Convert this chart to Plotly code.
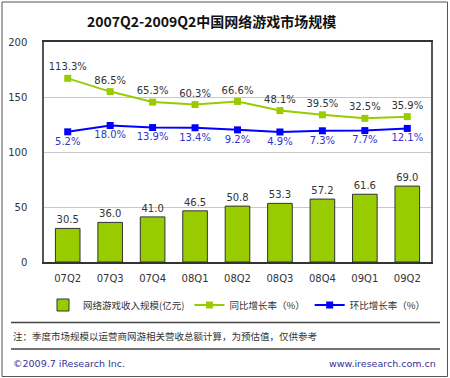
import plotly.graph_objects as go

categories = ["07Q2", "07Q3", "07Q4", "08Q1", "08Q2", "08Q3", "08Q4", "09Q1", "09Q2"]
revenue = [30.5, 36.0, 41.0, 46.5, 50.8, 53.3, 57.2, 61.6, 69.0]
yoy_growth = [113.3, 86.5, 65.3, 60.3, 66.6, 48.1, 39.5, 32.5, 35.9]
qoq_growth = [5.2, 18.0, 13.9, 13.4, 9.2, 4.9, 7.3, 7.7, 12.1]

FONT = "DejaVu Sans, Noto Sans CJK SC, sans-serif"
CJK = "Noto Sans CJK SC, DejaVu Sans, sans-serif"

W, H = 450, 378
L, R, T, B = 44, 431, 42, 262

def px(x):
    return (x - L) / (R - L)

def py(y):
    return (B - y) / (B - T)

fig = go.Figure()
fig.add_trace(go.Bar(
    x=categories, y=revenue, name="网络游戏收入规模(亿元)",
    marker=dict(color="#99cc00", line=dict(color="#333333", width=1)),
    text=[f"{v:.1f}" for v in revenue], textposition="outside",
    textfont=dict(family=FONT, size=10, color="#333333"),
    cliponaxis=False,
))
fig.add_trace(go.Scatter(
    x=categories, y=yoy_growth, name="同比增长率（%）", yaxis="y2",
    mode="lines+markers+text",
    line=dict(color="#99cc00", width=2),
    marker=dict(symbol="square", size=7, color="#99cc00"),
    text=[f"{v:.1f}%" for v in yoy_growth], textposition="top center",
    textfont=dict(family=FONT, size=10, color="#333333"),
    cliponaxis=False,
))
fig.add_trace(go.Scatter(
    x=categories, y=qoq_growth, name="环比增长率（%）", yaxis="y2",
    mode="lines+markers+text",
    line=dict(color="#0000ff", width=2),
    marker=dict(symbol="square", size=7, color="#0000ff"),
    text=[f"{v:.1f}%" for v in qoq_growth], textposition="bottom center",
    textfont=dict(family=FONT, size=10, color="#3333cc"),
    cliponaxis=False,
))

shapes = [
    dict(type="rect", xref="paper", yref="paper", x0=px(2), x1=px(447.5), y0=py(376.5), y1=py(2),
         line=dict(color="#555555", width=1), layer="below"),
    dict(type="line", xref="paper", yref="paper", x0=px(11), x1=px(440), y0=py(322.5), y1=py(322.5),
         line=dict(color="#444444", width=1.5)),
    dict(type="line", xref="paper", yref="paper", x0=px(11), x1=px(440), y0=py(349), y1=py(349),
         line=dict(color="#444444", width=1.5)),
]

annotations = [
    dict(text="注：季度市场规模以运营商网游相关营收总额计算，为预估值，仅供参考", xref="paper", yref="paper",
         x=px(11), y=py(336), xanchor="left", yanchor="middle", showarrow=False,
         font=dict(family=CJK, size=9.5, color="#333333")),
    dict(text="©2009.7 iResearch Inc.", xref="paper", yref="paper",
         x=px(11), y=py(363), xanchor="left", yanchor="middle", showarrow=False,
         font=dict(family=FONT, size=9.5, color="#333399")),
    dict(text="www.iresearch.com.cn", xref="paper", yref="paper",
         x=px(438), y=py(363), xanchor="right", yanchor="middle", showarrow=False,
         font=dict(family=FONT, size=9.5, color="#333399")),
]

fig.update_layout(
    width=W, height=H,
    margin=dict(l=L, r=W - R, t=T, b=H - B, pad=0, autoexpand=False),
    paper_bgcolor="white", plot_bgcolor="white",
    title=dict(text="<b>2007Q2-2009Q2中国网络游戏市场规模</b>", x=px(226), xanchor="center",
               y=1 - 22 / H, yanchor="middle",
               font=dict(family=CJK, size=14, color="#111111")),
    bargap=0.42,
    showlegend=True,
    legend=dict(orientation="h", x=px(43), xanchor="left", y=py(305), yanchor="middle",
                font=dict(family=CJK, size=9.5, color="#333333"), bgcolor="rgba(0,0,0,0)",
                itemwidth=30, tracegroupgap=0),
    xaxis=dict(showline=True, mirror=True, linecolor="#333333", linewidth=1.5,
               ticks="", tickfont=dict(family=FONT, size=10, color="#333333"),
               showgrid=False, ticklabelstandoff=6),
    yaxis=dict(range=[0, 200], dtick=50, showline=True, mirror=True, linecolor="#555555", linewidth=1.5,
               showgrid=True, gridcolor="#c8c8c8", gridwidth=1, ticks="",
               tickfont=dict(family=FONT, size=10, color="#333333"), zeroline=False,
               ticklabelstandoff=13),
    yaxis2=dict(overlaying="y", side="right", range=[-257.8, 186.7], visible=False, showgrid=False),
    shapes=shapes, annotations=annotations,
)

fig.write_html("out.html", config={"displayModeBar": False},
               post_script="document.body.style.margin='0';document.body.style.overflow='hidden';")
